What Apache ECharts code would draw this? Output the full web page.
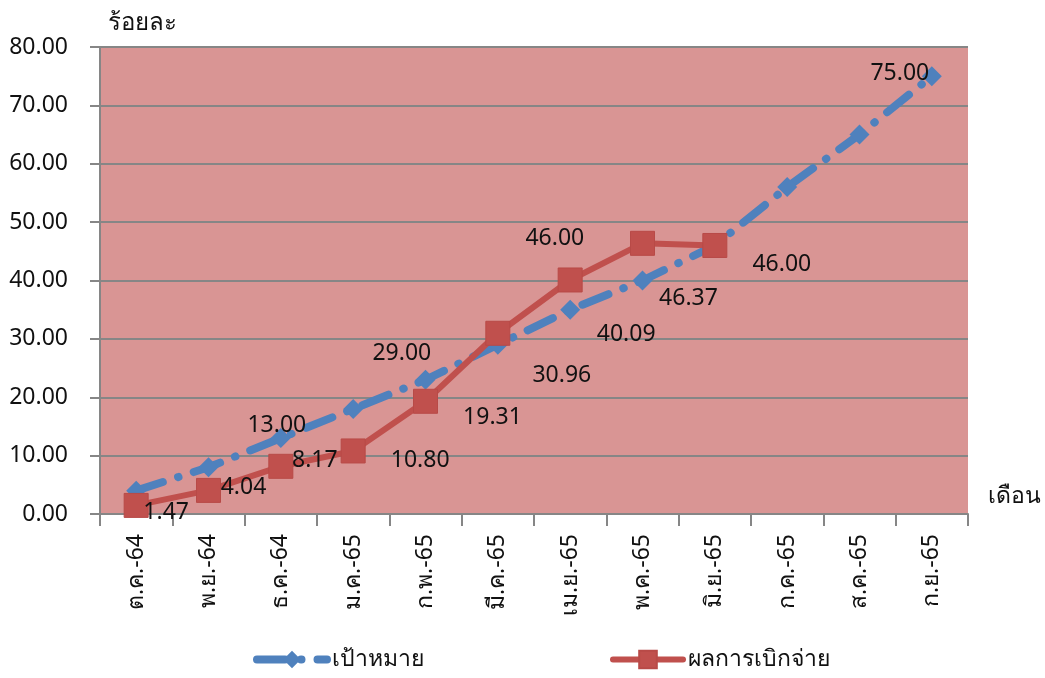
<!DOCTYPE html>
<html>
<head>
<meta charset="utf-8">
<script src="https://cdn.jsdelivr.net/npm/echarts@6/dist/echarts.min.js"></script>
<style>html,body{margin:0;padding:0;background:#fff}#c{width:1045px;height:678px}</style>
</head>
<body>
<div id="c"></div>
<script>
var categories = ['ต.ค.-64','พ.ย.-64','ธ.ค.-64','ม.ค.-65','ก.พ.-65','มี.ค.-65','เม.ย.-65','พ.ค.-65','มิ.ย.-65','ก.ค.-65','ส.ค.-65','ก.ย.-65'];
var targetValues = [4, 8, 13, 18, 23, 29, 35, 40, 46, 56, 65, 75];
var actualValues = [1.47, 4.04, 8.17, 10.80, 19.31, 30.96, 40.09, 46.37, 46.00];
var yTicks = [0, 10, 20, 30, 40, 50, 60, 70, 80];

// label placement (pixel offsets from each point), kept apart from the data
var targetLabelOffsets = [null, null, [-4,-13], null, null, [-96,9], null, null, [-160,-7], null, null, [-32,-3]];
var actualLabelOffsets = [[30,7],[35,-3],[34,-6],[67,9],[67,16],[64,42],[56,54],[46,55],[67,19]];

var FONT = '"Noto Sans", "DejaVu Sans", sans-serif';
var blue = '#4F81BD', red = '#C0504D';

function buildData(vals, offs){
  return vals.map(function(v, i){
    var o = offs[i];
    if (!o) return {value: v};
    return {value: v, label: {show: true, position: 'inside', offset: o}};
  });
}

var chart = echarts.init(document.getElementById('c'));
chart.setOption({
  animation: false,
  textStyle: {fontFamily: FONT},
  grid: {left: 100, right: 77, top: 47, bottom: 164, show: true, backgroundColor: '#D99594', borderWidth: 0},
  legend: {
    bottom: 2, left: 248, itemWidth: 70, itemHeight: 22, itemGap: 186,
    textStyle: {fontSize: 23, color: '#111', fontFamily: FONT},
    lineStyle: {width: 'inherit', type: 'inherit', cap: 'round'},
    data: ['เป้าหมาย', 'ผลการเบิกจ่าย']
  },
  xAxis: {
    type: 'category', data: categories, boundaryGap: true,
    name: 'เดือน', nameLocation: 'end', nameGap: 20,
    nameTextStyle: {fontSize: 23, color: '#111', verticalAlign: 'bottom', padding: [0,0,6,0]},
    axisLine: {lineStyle: {color: '#868686', width: 2}},
    axisTick: {show: true, length: 12, lineStyle: {color: '#868686', width: 2}},
    axisLabel: {rotate: 90, fontSize: 23, color: '#111', margin: 20, interval: 0},
    splitLine: {show: false}
  },
  yAxis: {
    type: 'value', min: 0, max: 80, interval: 10,
    name: 'ร้อยละ', nameLocation: 'end', nameGap: 12,
    nameTextStyle: {fontSize: 24, color: '#111', align: 'left', padding: [0,0,0,8]},
    axisLine: {show: true, lineStyle: {color: '#868686', width: 2}},
    axisTick: {show: true, length: 10, lineStyle: {color: '#868686', width: 2}},
    axisLabel: {fontSize: 23, color: '#111', margin: 32, formatter: function(v){ return v.toFixed(2); }},
    splitLine: {show: true, lineStyle: {color: '#868686', width: 2}}
  },
  series: [
    {
      name: 'เป้าหมาย', type: 'line', data: buildData(targetValues, targetLabelOffsets),
      symbol: 'diamond', symbolSize: 20,
      lineStyle: {color: blue, width: 8, type: [28, 16, 0.5, 16], cap: 'round'},
      itemStyle: {color: blue},
      label: {show: false, fontSize: 23, color: '#111', formatter: function(p){ return p.value.toFixed(2); }},
      z: 2
    },
    {
      name: 'ผลการเบิกจ่าย', type: 'line', data: buildData(actualValues, actualLabelOffsets),
      symbol: 'rect', symbolSize: 24,
      lineStyle: {color: red, width: 6},
      itemStyle: {color: red, borderColor: '#B84A47', borderWidth: 1},
      label: {show: false, fontSize: 23, color: '#111', formatter: function(p){ return p.value.toFixed(2); }},
      z: 3
    }
  ]
});
</script>
</body>
</html>
